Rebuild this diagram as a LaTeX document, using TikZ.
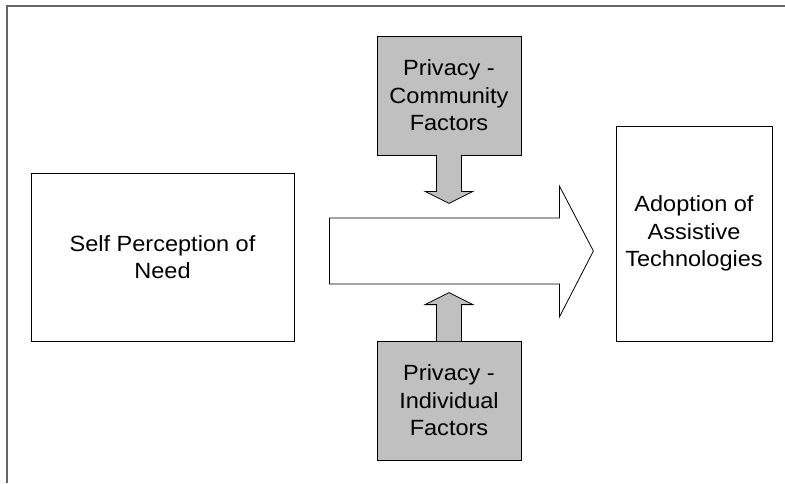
\documentclass[tikz,border=0pt]{standalone}
\usepackage{fontspec}
\setmainfont{Liberation Sans}[FakeStretch=1.07]
\definecolor{boxgray}{RGB}{192,192,192}
\definecolor{framegray}{RGB}{100,100,100}
\tikzset{
  plainbox/.style={draw,line width=0.8pt,fill=white,align=center,inner sep=0pt,
    font=\fontsize{22}{27.5}\selectfont},
  factorbox/.style={plainbox,fill=boxgray},
  blockarrow/.style={draw,line width=0.8pt,line join=miter}
}
\begin{document}
\begin{tikzpicture}[x=1pt,y=-1pt]
  \useasboundingbox (0,0) rectangle (785,483);

  % outer frame, only top and left edges show
  \draw[framegray,line width=2pt] (6.5,483) -- (6.5,6) -- (785,6);

  \node (self) at (162.5,257) [plainbox,minimum width=263pt,minimum height=168pt] {Self Perception of\\Need};
  \node (adopt) at (694,233.5) [plainbox,minimum width=156pt,minimum height=215pt] {Adoption of\\Assistive\\Technologies};
  \node (comm) at (449,95.5) [factorbox,minimum width=144pt,minimum height=119pt] {Privacy -\\Community\\Factors};
  \node (indiv) at (449,400.5) [factorbox,minimum width=144pt,minimum height=119pt] {Privacy -\\Individual\\Factors};

  % main arrow between the two boxes
  \draw[blockarrow,fill=white] (self.east) ++(35,-39) -- ++(230,0) -- ++(0,-32) -- ++(34,65)
    -- ++(-34,66) -- ++(0,-33) -- ++(-230,0) -- cycle;

  % factor arrows pushing on the main arrow
  \draw[blockarrow,fill=boxgray] (comm.south) ++(-12.5,-0.6) -- ++(0,36.6) -- ++(-11.5,0)
    -- ++(24,12) -- ++(24,-12) -- ++(-11.5,0) -- ++(0,-36.6);
  \draw[blockarrow,fill=boxgray] (indiv.north) ++(-12.5,0.6) -- ++(0,-36.6) -- ++(-11.5,0)
    -- ++(24,-12) -- ++(24,12) -- ++(-11.5,0) -- ++(0,36.6);

\end{tikzpicture}
\end{document}
